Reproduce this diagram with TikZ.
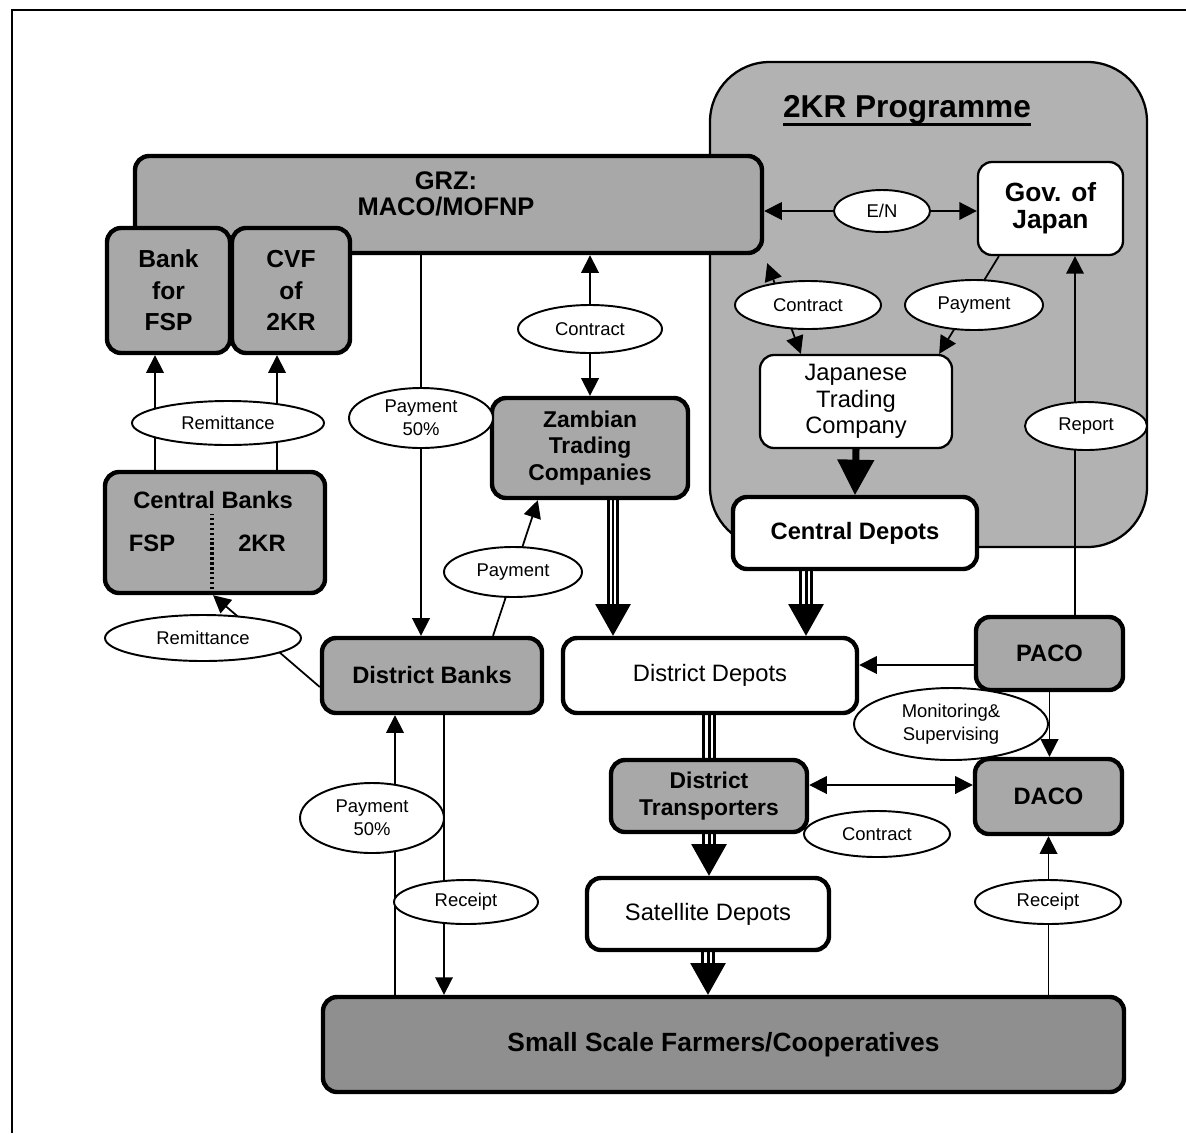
\documentclass[tikz,border=0pt]{standalone}
\usepackage{fontspec}
\setmainfont{Liberation Sans}
\usetikzlibrary{arrows.meta,shapes.geometric,calc}
\pgfdeclarelayer{back}
\pgfdeclarelayer{mid}
\pgfsetlayers{back,mid,main}
\newdimen\pxu \pxu=0.02cm
\newcommand\tfTitle{\fontsize{18}{20}\selectfont\bfseries}
\newcommand\tfGrz{\fontsize{14.5}{15}\selectfont\bfseries}
\newcommand\tfBank{\fontsize{14}{18}\selectfont\bfseries}
\newcommand\tfGov{\fontsize{15}{15.3}\selectfont\bfseries}
\newcommand\tfMid{\fontsize{13.5}{15}\selectfont}
\newcommand\tfZam{\fontsize{13}{15.2}\selectfont\bfseries}
\newcommand\tfFarm{\fontsize{15}{17}\selectfont\bfseries}
\newcommand\tfLab{\fontsize{10.5}{13}\selectfont}
\newcommand\triArrow[2]{%
  \draw[line width=8.5pt, shorten >=16pt] (#1) -- (#2);
  \draw[line width=5.1pt, white, shorten >=15pt] (#1) -- (#2);
  \draw[line width=1.7pt, shorten >=16pt] (#1) -- (#2);
  \draw[line width=1pt, -{Triangle[length=18pt,width=20pt]}] (#1) -- (#2);}
\newcommand\triLine[2]{%
  \draw[line width=8.5pt] (#1) -- (#2);
  \draw[line width=5.1pt, white] (#1) -- (#2);
  \draw[line width=1.7pt] (#1) -- (#2);}
\newcommand\dblArrow[2]{%
  \draw[line width=6.8pt, shorten >=16pt] (#1) -- (#2);
  \draw[line width=3.4pt, white, shorten >=15pt] (#1) -- (#2);
  \draw[line width=1pt, -{Triangle[length=18pt,width=20pt]}] (#1) -- (#2);}
\tikzset{
  kr/.style={draw, line width=1.3pt, fill=black!30, rounded corners=34pt},
  gbox/.style={draw, line width=2.5pt, rounded corners=8pt, fill=black!34, align=center, inner sep=0pt},
  wbox/.style={draw, line width=2.5pt, rounded corners=8pt, fill=white, align=center, inner sep=0pt},
  tbox/.style={draw, line width=1.3pt, rounded corners=8pt, fill=white, align=center, inner sep=0pt},
  lab/.style={ellipse, draw, line width=1.1pt, fill=white, inner sep=0pt, align=center, font=\tfLab},
  arr/.style={line width=1pt, -{Triangle[length=10pt,width=10pt]}},
  both/.style={line width=1pt, {Triangle[length=10pt,width=10pt]}-{Triangle[length=10pt,width=10pt]}},
}
\begin{document}
\begin{tikzpicture}[x=0.02cm,y=-0.02cm]
\useasboundingbox (0,0) rectangle (1186,1133);
\draw[line width=1.7pt] (12,1133) -- (12,10) -- (1186,10);

\begin{pgfonlayer}{back}
\node[kr, minimum width=437\pxu, minimum height=485\pxu] (kr) at (928.5,304.5) {};
\end{pgfonlayer}
\node[font=\tfTitle, inner sep=0pt] (krt) at (907,110) {2KR Programme};
\draw[line width=1.6pt] ($(krt.base west)+(0,7)$) -- ($(krt.base east)+(0,7)$);

% boxes
\node[gbox, minimum width=627\pxu, minimum height=97\pxu] (grz) at (448.5,204.5) {};
\node[font=\tfGrz, align=center] (grzt) at (446,194) {GRZ:\\MACO/MOFNP};
\node[gbox, font=\tfBank, minimum width=123\pxu, minimum height=125\pxu] (bank) at (168.5,290.5) {Bank\\for\\FSP};
\node[gbox, font=\tfBank, minimum width=118\pxu, minimum height=125\pxu] (cvf) at (291,290.5) {CVF\\of\\2KR};
\node[tbox, font=\tfGov, minimum width=145\pxu, minimum height=93\pxu] (gov) at (1050.5,208.5) {Gov. of\\Japan};
\node[tbox, font=\tfMid, minimum width=192\pxu, minimum height=93\pxu] (jtc) at (856,401.5) {Japanese\\Trading\\Company};
\node[wbox, font=\tfMid\bfseries, minimum width=244\pxu, minimum height=72\pxu] (cdep) at (855,533) {Central Depots};
\node[gbox, font=\tfZam, minimum width=196\pxu, minimum height=100\pxu] (zam) at (590,448) {Zambian\\Trading\\Companies};
\node[gbox, minimum width=220\pxu, minimum height=121\pxu] (cb) at (215,532.5) {};
\node[font=\tfMid\bfseries] (cbt) at (213,500) {Central Banks};
\node[font=\tfMid\bfseries] (cbf) at (152,543) {FSP};
\node[font=\tfMid\bfseries] (cbk) at (262,543) {2KR};
\draw[line width=2pt, dash pattern=on 1.4pt off 1.4pt] ($(cb.south)+(-3,-6)$) -- ($(cb.south)+(-3,-81)$);
\node[gbox, font=\tfMid\bfseries, minimum width=220\pxu, minimum height=75\pxu] (dbank) at (432,675.5) {District Banks};
\node[wbox, font=\tfMid, minimum width=294\pxu, minimum height=75\pxu] (ddep) at (710,675.5) {District Depots};
\node[gbox, font=\tfMid\bfseries, minimum width=147\pxu, minimum height=73\pxu] (paco) at (1049.5,653.5) {PACO};
\node[gbox, font=\tfZam, minimum width=196\pxu, minimum height=72\pxu] (dtr) at (709,796) {District\\Transporters};
\node[gbox, font=\tfMid\bfseries, minimum width=147\pxu, minimum height=75\pxu] (daco) at (1048.5,796.5) {DACO};
\node[wbox, font=\tfMid, minimum width=242\pxu, minimum height=72\pxu] (sat) at (708,914) {Satellite Depots};
\node[gbox, fill=black!44, font=\tfFarm, minimum width=801\pxu, minimum height=95\pxu] (farm) at (723.5,1044.5) {Small Scale Farmers/Cooperatives};

% labels
\node[lab, minimum width=96\pxu, minimum height=42\pxu] (en) at (882,211) {E/N};
\node[lab, minimum width=146\pxu, minimum height=48\pxu] (c1) at (808,305) {Contract};
\node[lab, minimum width=138\pxu, minimum height=50\pxu] (p1) at (974,305) {Payment};
\node[lab, minimum width=122\pxu, minimum height=48\pxu] (rep) at (1086,426) {Report};
\node[lab, minimum width=144\pxu, minimum height=48\pxu] (c2) at (590,329) {Contract};
\node[lab, minimum width=144\pxu, minimum height=60\pxu] (pay50a) at (421,418) {Payment\\50\%};
\node[lab, minimum width=192\pxu, minimum height=44\pxu] (rem1) at (228,423) {Remittance};
\node[lab, minimum width=138\pxu, minimum height=50\pxu] (pay2) at (513,572) {Payment};
\node[lab, minimum width=196\pxu, minimum height=46\pxu] (rem2) at (203,638) {Remittance};
\node[lab, minimum width=194\pxu, minimum height=72\pxu] (mon) at (951,724) {Monitoring\&\\Supervising};
\node[lab, minimum width=146\pxu, minimum height=46\pxu] (c3) at (877,834) {Contract};
\node[lab, minimum width=144\pxu, minimum height=70\pxu] (pay50b) at (372,818) {Payment\\50\%};
\node[lab, minimum width=144\pxu, minimum height=44\pxu] (rcp1) at (466,902) {Receipt};
\node[lab, minimum width=146\pxu, minimum height=44\pxu] (rcp2) at (1048,902) {Receipt};

\begin{pgfonlayer}{mid}
\draw[both] (grz.east |- en) -- (gov.west |- en);
\coordinate (gcT) at ($(grz.south east)+(3,8)$);
\coordinate (jcT) at ($(jtc.north west)+(42,0)$);
\draw[both] (gcT) -- (jcT);
\coordinate (gP) at ($(gov.south west)+(22,0)$);
\coordinate (jP) at ($(jtc.north east)+(-14,0)$);
\draw[arr] (gP) -- (jP);
\draw[line width=4pt, shorten >=16pt] (jtc.south) -- (cdep.north);
\draw[line width=1pt, -{Triangle[length=20pt,width=21pt]}] (jtc.south) -- (cdep.north);
\coordinate (pR) at ($(paco.north)+(25.5,0)$);
\draw[arr] (pR) -- (pR |- gov.south);
\coordinate (pW) at ($(paco.west)+(0,11.5)$);
\draw[arr] (pW) -- (pW -| ddep.east);
\draw[arr] (paco.south) -- (paco.south |- daco.north);
\coordinate (dtE) at ($(dtr.east)+(0,-11)$);
\draw[both] (dtE) -- (dtE -| daco.west);
\draw[arr] (daco.south |- farm.north) -- (daco.south);
\triArrow{sat.south}{sat.south |- farm.north}
\triArrow{dtr.south}{dtr.south |- sat.north}
\triLine{dtr.north |- ddep.south}{dtr.north}
\coordinate (cdS) at ($(cdep.south)+(-49,0)$);
\triArrow{cdS}{cdS |- ddep.north}
\coordinate (zS) at ($(zam.south)+(23,0)$);
\dblArrow{zS}{zS |- ddep.north}
\draw[both] (zam.north |- grz.south) -- (zam.north);
\draw[arr] (pay50a |- grz.south) -- (pay50a |- dbank.north);
\coordinate (dbZ) at ($(dbank.north)+(61,0)$);
\coordinate (zB) at ($(zam.south west)+(48,0)$);
\draw[arr] (dbZ) -- (zB);
\coordinate (dbW) at ($(dbank.west)+(0,11.5)$);
\coordinate (cbS) at ($(cb.south)+(-2,0)$);
\draw[arr] (dbW) -- (cbS);
\coordinate (bA) at ($(bank.south)+(-13.5,0)$);
\draw[arr] (bA |- cb.north) -- (bA);
\coordinate (bB) at ($(cvf.south)+(-14,0)$);
\draw[arr] (bB |- cb.north) -- (bB);
\coordinate (fA) at ($(dbank.south)+(-37,0)$);
\draw[arr] (fA |- farm.north) -- (fA);
\coordinate (fB) at ($(dbank.south)+(12,0)$);
\draw[arr] (fB) -- (fB |- farm.north);
\end{pgfonlayer}
\end{tikzpicture}
\end{document}
